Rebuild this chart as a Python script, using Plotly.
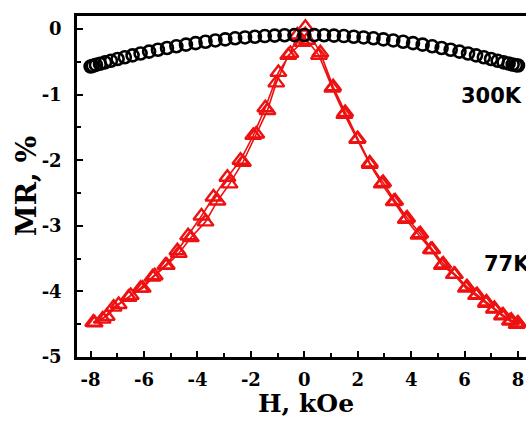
import plotly.graph_objects as go

# 300 K data (open black circles)
h_300 = [-8.0, -7.92, -7.8, -7.65, -7.46, -7.24, -6.99, -6.72, -6.43, -6.13, -5.81, -5.48, -5.14,
         -4.79, -4.43, -4.07, -3.7, -3.33, -2.96, -2.59, -2.22, -1.85, -1.48, -1.11, -0.74, -0.37,
         0.0, 0.37, 0.74, 1.11, 1.48, 1.85, 2.22, 2.59, 2.96, 3.33, 3.7, 4.07, 4.43, 4.79, 5.14,
         5.48, 5.81, 6.13, 6.43, 6.72, 6.99, 7.24, 7.46, 7.65, 7.8, 7.92, 8.0]
mr_300 = [-0.57, -0.56, -0.546, -0.529, -0.507, -0.483, -0.456, -0.429, -0.4, -0.372, -0.343, -0.315,
          -0.288, -0.262, -0.237, -0.214, -0.193, -0.173, -0.156, -0.14, -0.127, -0.116, -0.106,
          -0.099, -0.094, -0.091, -0.09, -0.091, -0.094, -0.099, -0.106, -0.116, -0.127, -0.14,
          -0.156, -0.173, -0.193, -0.214, -0.237, -0.262, -0.288, -0.315, -0.343, -0.372, -0.4,
          -0.429, -0.456, -0.483, -0.507, -0.525, -0.54, -0.55, -0.555]

# 77 K data (open red triangles), down sweep then up sweep
h_77 = [8.0, 7.75, 7.44, 7.12, 6.82, 6.47, 6.09, 5.64, 5.2, 4.79, 4.34, 3.85, 3.4, 2.95, 2.45,
        2.0, 1.53, 1.08, 0.6, 0.04, -0.26, -0.52, -0.97, -1.46, -1.91, -2.39, -2.88, -3.4,
        -3.85, -4.35, -4.75, -5.2, -5.68, -6.13, -6.58, -7.14, -7.55, -7.85,
        -7.9, -7.4, -6.95, -6.5, -6.05, -5.6, -5.15, -4.7, -4.25, -3.7, -3.25, -2.8, -2.3,
        -1.8, -1.38, -1.05, -0.6, -0.07, 0.1, 0.55, 1.05, 1.5, 1.98, 2.45, 2.9, 3.35, 3.8,
        4.28, 4.74, 5.15, 5.6, 6.05, 6.43, 6.8, 7.1, 7.4, 7.7, 7.95]
mr_77 = [-4.48, -4.44, -4.36, -4.26, -4.16, -4.05, -3.93, -3.74, -3.58, -3.36, -3.12, -2.88,
         -2.62, -2.34, -2.04, -1.67, -1.27, -0.88, -0.36, 0.03, -0.09, -0.37, -0.66, -1.2,
         -1.62, -2.0, -2.26, -2.56, -2.85, -3.15, -3.38, -3.6, -3.78, -3.95, -4.09, -4.24,
         -4.42, -4.48,
         -4.47, -4.38, -4.2, -4.06, -3.95, -3.76, -3.6, -3.42, -3.18, -2.94, -2.62, -2.36,
         -2.03, -1.6, -1.24, -0.82, -0.4, -0.2, -0.17, -0.4, -0.9, -1.3, -1.68, -2.06, -2.36,
         -2.63, -2.9, -3.14, -3.36, -3.6, -3.74, -3.95, -4.06, -4.18, -4.27, -4.37, -4.45, -4.5]

x_ticks = [-8, -6, -4, -2, 0, 2, 4, 6, 8]
y_ticks = [0, -1, -2, -3, -4, -5]
labels = [("300K", 6.99, -1.02, "center"), ("77K", 6.65, -3.58, "left")]
x_title = "H, kOe"
y_title = "MR, %"

SERIF = "DejaVu Serif, Liberation Serif, serif"
SANS = "DejaVu Sans, Liberation Sans, sans-serif"

fig = go.Figure()
fig.add_trace(go.Scatter(
    x=h_77, y=mr_77, mode="lines+markers",
    line=dict(color="#ee1111", width=1.6),
    marker=dict(symbol="triangle-up-open", size=14, color="#ee1111", line=dict(width=2.4, color="#ee1111")),
    showlegend=False, cliponaxis=False))
fig.add_trace(go.Scatter(
    x=h_300, y=mr_300, mode="markers",
    marker=dict(symbol="circle-open", size=12, color="black", line=dict(width=2.6, color="black")),
    showlegend=False, cliponaxis=False))

for txt, xv, yv, anc in labels:
    fig.add_annotation(x=xv, y=yv, text=txt, showarrow=False, xanchor=anc, yanchor="middle",
                       font=dict(family=SANS, size=21, color="black", weight="bold"))

# axis titles as annotations in paper coordinates
fig.add_annotation(xref="paper", yref="paper", x=0.51, y=-0.135, text=x_title, showarrow=False,
                   xanchor="center", yanchor="middle",
                   font=dict(family=SERIF, size=25, color="black", weight="bold"))
fig.add_annotation(xref="paper", yref="paper", x=-0.112, y=0.5, text=y_title, showarrow=False,
                   xanchor="center", yanchor="middle", textangle=-90,
                   font=dict(family=SERIF, size=28, color="black", weight="bold"))

tickfont = dict(family=SERIF, size=18, color="black", weight="bold")

fig.update_xaxes(
    range=[-8.51, 8.30], tickvals=x_ticks, ticktext=[str(v) for v in x_ticks],
    ticks="inside", ticklen=6, tickwidth=2, tickcolor="black",
    minor=dict(ticks="inside", ticklen=4, tickwidth=2, dtick=1, tick0=-7, tickcolor="black"),
    showline=True, linewidth=2.5, linecolor="black", mirror=True, showgrid=False, zeroline=False,
    tickfont=tickfont, ticklabelstandoff=5, automargin=False, ticklabeloverflow="allow")
fig.update_yaxes(
    range=[-5, 0.2], tickvals=y_ticks, ticktext=[str(v) for v in y_ticks],
    ticks="inside", ticklen=6, tickwidth=2, tickcolor="black",
    minor=dict(ticks="inside", ticklen=4, tickwidth=2, dtick=0.5, tick0=-4.5, tickcolor="black"),
    showline=True, linewidth=2.5, linecolor="black", mirror=False, showgrid=False, zeroline=False,
    tickfont=tickfont, ticklabelstandoff=9, automargin=False)

fig.update_layout(
    width=526, height=421, margin=dict(l=77, r=0, t=16, b=64, autoexpand=False),
    plot_bgcolor="white", paper_bgcolor="white")

fig.write_html("out.html", config={"displayModeBar": False},
               post_script="document.body.style.margin='0';document.body.style.overflow='hidden';")
